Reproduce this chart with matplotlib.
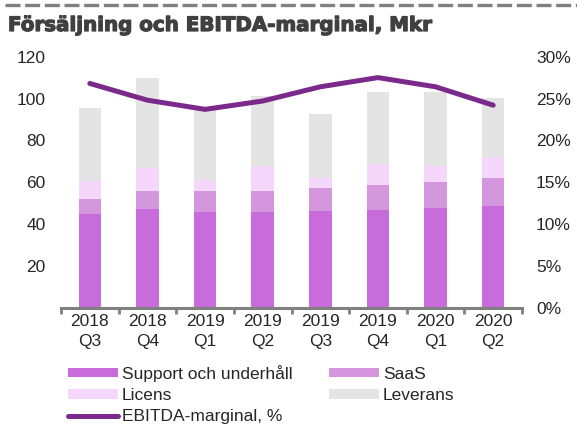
import matplotlib
matplotlib.use('Agg')
import matplotlib.pyplot as plt
import matplotlib.patheffects as pe
from matplotlib.lines import Line2D
from matplotlib.ticker import FuncFormatter
import numpy as np

plt.rcParams['font.family'] = ['Liberation Sans', 'DejaVu Sans']

quarters = ['2018\nQ3', '2018\nQ4', '2019\nQ1', '2019\nQ2',
            '2019\nQ3', '2019\nQ4', '2020\nQ1', '2020\nQ2']
support = [44.5, 47.2, 45.7, 45.6, 46.2, 46.5, 47.6, 48.8]
saas = [7.6, 8.7, 10.2, 10.2, 11.0, 12.0, 12.6, 13.0]
licens = [8.4, 10.8, 5.3, 11.9, 4.9, 10.1, 7.5, 10.2]
leverans = [34.9, 43.0, 33.8, 33.7, 30.3, 34.4, 35.3, 28.1]
ebitda = [26.8, 24.8, 23.7, 24.7, 26.4, 27.5, 26.4, 24.2]

c_support = '#C86CDC'
c_saas = '#D497DE'
c_licens = '#F6D7FC'
c_lev = '#E4E4E4'
c_line = '#7B2A8C'
grey = '#808080'
txt = '#262626'
fs = 12.5

fig = plt.figure(figsize=(5.77, 4.30), dpi=100)
ax = fig.add_axes([61/577, (430-307.5)/430, (522-61)/577, (307.5-56.7)/430])

x = np.arange(len(quarters))
w = 0.39
b1 = np.array(support)
b2 = b1 + np.array(saas)
b3 = b2 + np.array(licens)
ax.bar(x, support, w, color=c_support, label='Support och underhåll')
ax.bar(x, saas, w, bottom=b1, color=c_saas, label='SaaS')
ax.bar(x, licens, w, bottom=b2, color=c_licens, label='Licens')
ax.bar(x, leverans, w, bottom=b3, color=c_lev, label='Leverans')

ax.set_xlim(-0.5, len(quarters) - 0.5)
ax.set_ylim(0, 120)
ax.set_yticks([20, 40, 60, 80, 100, 120])
ax.set_xticks(x)
ax.set_xticklabels(quarters, fontsize=fs, color=txt, linespacing=1.4)
ax.set_xticks(np.arange(-0.5, len(quarters)), minor=True)
ax.tick_params(axis='x', which='major', length=0, pad=5)
ax.tick_params(axis='x', which='minor', length=4, width=2, color=grey, direction='out')
ax.tick_params(axis='y', length=0, pad=11, labelsize=fs, labelcolor=txt)
for s in ['top', 'right', 'left']:
    ax.spines[s].set_visible(False)
ax.spines['bottom'].set_color(grey)
ax.spines['bottom'].set_linewidth(2.2)

ax2 = ax.twinx()
ax2.plot(x, ebitda, color=c_line, lw=3.6, solid_capstyle='round', solid_joinstyle='round')
ax2.set_ylim(0, 30)
ax2.set_yticks([0, 5, 10, 15, 20, 25, 30])
ax2.yaxis.set_major_formatter(FuncFormatter(lambda v, p: f'{v:.0f}%'))
ax2.tick_params(axis='y', length=0, pad=10, labelsize=fs, labelcolor=txt)
for s in ['top', 'right', 'left', 'bottom']:
    ax2.spines[s].set_visible(False)

# dashed rule and title
fig.add_artist(Line2D([0.008, 1.0], [1 - 5/430, 1 - 5/430], color=grey, lw=2.4,
                      dashes=(4.5, 1.4), transform=fig.transFigure))
fig.text(8/577, 1 - 31/430, 'Försäljning och EBITDA-marginal, Mkr', fontsize=14.3,
         fontweight='bold', color='#404040', va='baseline', ha='left',
         family='DejaVu Sans',
         path_effects=[pe.withStroke(linewidth=0.9, foreground='#404040')])

h = ax.get_legend_handles_labels()[0]
line_h = Line2D([], [], color=c_line, lw=3.6, solid_capstyle='round')
handles = [h[0], h[2], line_h, h[1], h[3]]
labels = ['Support och underhåll', 'Licens', 'EBITDA-marginal, %', 'SaaS', 'Leverans']
fig.legend(handles, labels, ncol=2, loc='upper left',
           bbox_to_anchor=(68/577, 1 - 365/430), frameon=False, fontsize=fs,
           handlelength=2.87, handleheight=0.46, handletextpad=0.23,
           columnspacing=2.1, labelspacing=0.35, borderpad=0, borderaxespad=0,
           labelcolor=txt)

fig.savefig('out.png', dpi=100)
